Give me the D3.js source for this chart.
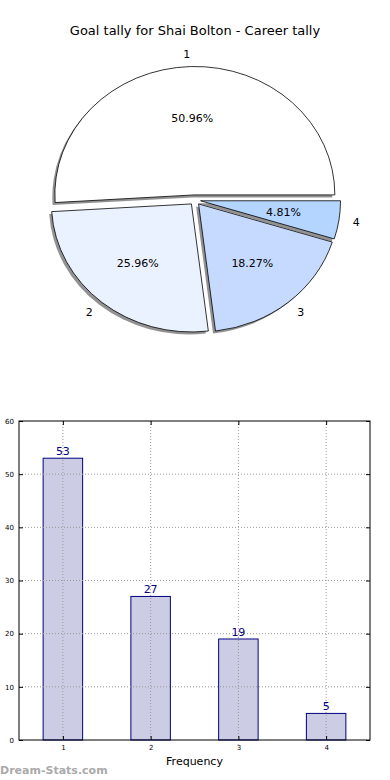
<!DOCTYPE html>
<html>
<head>
<meta charset="utf-8">
<script src="https://cdn.jsdelivr.net/npm/d3@7"></script>
<style>
  body { margin: 0; background: #fff; }
  text { font-family: "DejaVu Sans", sans-serif; }
</style>
</head>
<body>
<div id="chart"></div>
<script>
// data
var categories = ["1", "2", "3", "4"];
var goals = [53, 27, 19, 5];
var sliceColors = ["#ffffff", "#ebf2ff", "#c6daff", "#b3d5ff"];
var yTicks = [0, 10, 20, 30, 40, 50, 60];
var title = "Goal tally for Shai Bolton - Career tally";

var W = 390, H = 780;
var svg = d3.select("#chart").append("svg")
    .attr("width", W)
    .attr("height", H);

svg.append("text")
    .attr("x", 195)
    .attr("y", 35)
    .attr("text-anchor", "middle")
    .style("font-size", "13px")
    .text(title);

// ---- pie (stretched into an ellipse like the original) ----
var cx = 195, cy = 200, rx = 140, ry = 128, explode = 0.04;
var total = d3.sum(goals);

// matplotlib starts at 3 o'clock and goes counter-clockwise
var pie = d3.pie().sort(null).startAngle(Math.PI / 2).endAngle(Math.PI / 2 - 2 * Math.PI);
var arcs = pie(goals);
var unitArc = d3.arc().innerRadius(0).outerRadius(1);

function offset(d, k) {
  var a = (d.startAngle + d.endAngle) / 2;
  return [Math.sin(a) * rx * k, -Math.cos(a) * ry * k];
}

var pieG = svg.append("g");

// shadows first
pieG.selectAll("path.shadow")
  .data(arcs)
  .enter().append("path")
    .attr("class", "shadow")
    .attr("d", function(d) { return unitArc({startAngle: d.endAngle, endAngle: d.startAngle}); })
    .attr("transform", function(d) {
      var o = offset(d, explode);
      return "translate(" + (cx + o[0] - 2.5) + "," + (cy + o[1] + 2.5) + ") scale(" + rx + "," + ry + ")";
    })
    .attr("fill", "#777")
    .attr("opacity", 0.8);

pieG.selectAll("path.slice")
  .data(arcs)
  .enter().append("path")
    .attr("class", "slice")
    .attr("d", function(d) { return unitArc({startAngle: d.endAngle, endAngle: d.startAngle}); })
    .attr("transform", function(d) {
      var o = offset(d, explode);
      return "translate(" + (cx + o[0]) + "," + (cy + o[1]) + ") scale(" + rx + "," + ry + ")";
    })
    .attr("fill", function(d, i) { return sliceColors[i]; })
    .attr("stroke", "#000")
    .attr("stroke-width", 0.8)
    .attr("vector-effect", "non-scaling-stroke");

// category labels
pieG.selectAll("text.lab")
  .data(arcs)
  .enter().append("text")
    .attr("class", "lab")
    .attr("x", function(d) { return cx + offset(d, explode + 1.1)[0]; })
    .attr("y", function(d) { return cy + offset(d, explode + 1.1)[1]; })
    .attr("dy", "0.35em")
    .attr("text-anchor", function(d) { return offset(d, 1)[0] > 0 ? "start" : "end"; })
    .style("font-size", "11px")
    .text(function(d, i) { return categories[i]; });

// percentages
pieG.selectAll("text.pct")
  .data(arcs)
  .enter().append("text")
    .attr("class", "pct")
    .attr("x", function(d) { return cx + offset(d, explode + 0.6)[0]; })
    .attr("y", function(d) { return cy + offset(d, explode + 0.6)[1]; })
    .attr("dy", "0.35em")
    .attr("text-anchor", "middle")
    .style("font-size", "11px")
    .text(function(d) { return (d.value / total * 100).toFixed(2) + "%"; });

// ---- bar chart ----
var margin = {top: 421, left: 19, right: 20, bottom: 40};
var bw = W - margin.left - margin.right,
    bh = H - margin.top - margin.bottom;

var g = svg.append("g")
    .attr("transform", "translate(" + margin.left + "," + margin.top + ")");

var x = d3.scaleLinear().domain([0.5, 4.5]).range([0, bw]);
var y = d3.scaleLinear().domain([0, 60]).range([bh, 0]);
var barW = 0.45;

g.selectAll("rect.bar")
  .data(goals)
  .enter().append("rect")
    .attr("class", "bar")
    .attr("x", function(d, i) { return x(i + 1 - barW / 2); })
    .attr("y", function(d) { return y(d); })
    .attr("width", x(1 + barW) - x(1))
    .attr("height", function(d) { return bh - y(d); })
    .attr("fill", "#ccccE5")
    .attr("stroke", "#000080")
    .attr("stroke-width", 1);

// grid on top of bars
g.append("g")
  .selectAll("line")
  .data(yTicks.slice(1, -1))
  .enter().append("line")
    .attr("x1", 0).attr("x2", bw)
    .attr("y1", function(d) { return y(d); })
    .attr("y2", function(d) { return y(d); })
    .attr("stroke", "#999")
    .attr("stroke-dasharray", "1,2");

g.append("g")
  .selectAll("line")
  .data(categories)
  .enter().append("line")
    .attr("y1", 0).attr("y2", bh)
    .attr("x1", function(d) { return x(+d); })
    .attr("x2", function(d) { return x(+d); })
    .attr("stroke", "#999")
    .attr("stroke-dasharray", "1,2");

g.selectAll("text.val")
  .data(goals)
  .enter().append("text")
    .attr("class", "val")
    .attr("x", function(d, i) { return x(i + 1); })
    .attr("y", function(d) { return y(d) - 3; })
    .attr("text-anchor", "middle")
    .attr("fill", "#000080")
    .style("font-size", "11px")
    .text(function(d) { return d; });

// axes, ticks pointing inward and mirrored
var yAxis = d3.axisLeft(y).tickValues(yTicks).tickSizeInner(-4).tickSizeOuter(0).tickPadding(5);
var xAxis = d3.axisBottom(x).tickValues([1, 2, 3, 4]).tickFormat(d3.format("d"))
    .tickSizeInner(-4).tickSizeOuter(0).tickPadding(5);

g.append("g").call(yAxis)
  .call(function(s) { s.selectAll("text").style("font-size", "7px").attr("fill", "#000"); });
g.append("g").attr("transform", "translate(0," + bh + ")").call(xAxis)
  .call(function(s) { s.selectAll("text").style("font-size", "7px").attr("fill", "#000"); });
g.append("g").attr("transform", "translate(" + bw + ",0)")
  .call(d3.axisRight(y).tickValues(yTicks).tickSizeInner(-4).tickSizeOuter(0).tickFormat(""));
g.append("g")
  .call(d3.axisTop(x).tickValues([1, 2, 3, 4]).tickSizeInner(-4).tickSizeOuter(0).tickFormat(""));
g.selectAll(".domain").remove();

g.append("rect")
    .attr("width", bw).attr("height", bh)
    .attr("fill", "none")
    .attr("stroke", "#000")
    .attr("stroke-width", 1);

g.append("text")
    .attr("x", bw / 2)
    .attr("y", bh + 25)
    .attr("text-anchor", "middle")
    .style("font-size", "11px")
    .text("Frequency");

svg.append("text")
    .attr("x", 0)
    .attr("y", 774)
    .attr("fill", "#aaa")
    .style("font-size", "11px")
    .style("font-weight", "bold")
    .text("Dream-Stats.com");
</script>
</body>
</html>
